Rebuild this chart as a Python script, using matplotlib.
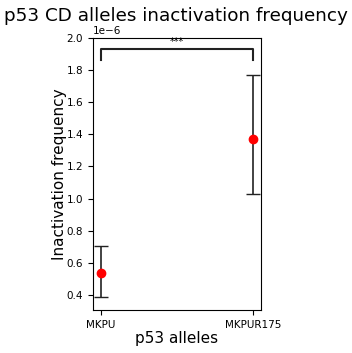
import matplotlib
matplotlib.use("Agg")
import matplotlib.pyplot as plt
import numpy as np

# === Data ===
alleles = ["MKPU", "MKPUR175"]
freq_mean = [0.536e-6, 1.369e-6]
err_low = [0.148e-6, 0.338e-6]
err_high = [0.170e-6, 0.400e-6]

fig = plt.figure(figsize=(3.52, 3.53), dpi=100)
ax = fig.add_axes([0.264, 0.122, 0.477, 0.770])

x = np.arange(len(alleles))
ax.errorbar(x, freq_mean, yerr=[err_low, err_high], fmt='o', color='red',
            ecolor='#222222', elinewidth=1.2, capsize=5, markersize=6)

ax.set_xticks(x)
ax.set_xticklabels(alleles)
ax.tick_params(labelsize=7.5)
ax.yaxis.get_offset_text().set_fontsize(7.5)
ax.set_ylim(0.306e-6, 2.0e-6)

# significance bracket
y_top, y_end = 1.935e-6, 1.865e-6
ax.plot([x[0], x[0], x[1], x[1]], [y_end, y_top, y_top, y_end], color='#222222', lw=1.5)
ax.text((x[0] + x[1]) / 2, y_top + 0.01e-6, "***", ha='center', va='bottom', fontsize=7)

ax.set_xlabel("p53 alleles", fontsize=11, labelpad=1)
ax.set_ylabel("Inactivation frequency", fontsize=11, labelpad=0)
fig.suptitle("p53 CD alleles inactivation frequency", fontsize=13.2, y=0.98)

fig.savefig("out.png", dpi=100)
